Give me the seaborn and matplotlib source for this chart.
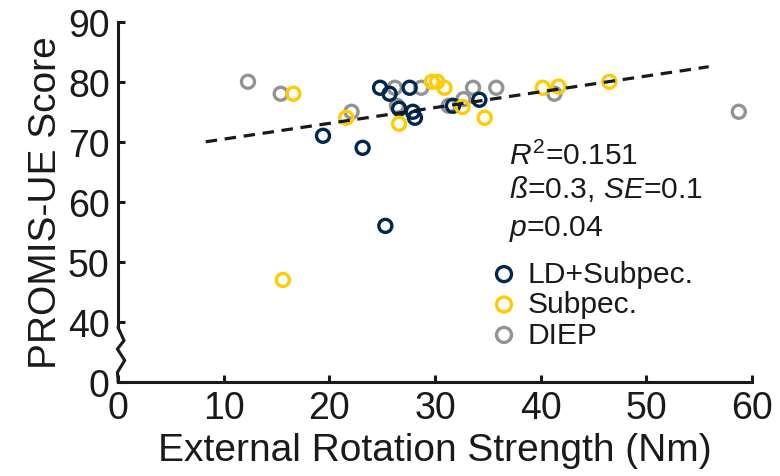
import numpy as np
import pandas as pd
import matplotlib
matplotlib.use("Agg")
import matplotlib.pyplot as plt
import matplotlib.transforms as mtransforms
import seaborn as sns

# ---------------- data ----------------
groups = ["LD+Subpec.", "Subpec.", "DIEP"]

ld_x = [19.4, 23.15, 24.8, 25.7, 27.6, 26.6, 27.9, 28.1, 31.7, 34.2, 25.3]
ld_y = [71.0, 69.0, 79.0, 78.0, 79.0, 75.5, 75.0, 74.0, 76.0, 77.0, 56.0]

sub_x = [16.6, 21.6, 29.7, 30.2, 30.9, 26.6, 32.6, 34.7, 40.2, 41.7, 46.5, 15.6]
sub_y = [78.0, 74.0, 80.0, 80.0, 79.0, 73.0, 75.8, 74.0, 79.0, 79.2, 80.0, 47.0]

diep_x = [12.3, 15.4, 22.1, 26.2, 28.7, 26.4, 31.3, 32.7, 33.6, 35.8, 41.3, 58.75]
diep_y = [80.0, 78.0, 75.0, 79.0, 79.0, 76.0, 76.0, 77.1, 79.0, 79.0, 78.0, 75.0]

fit_x = [8.3, 55.9]
fit_y = [70.0, 82.5]

xticks = [0, 10, 20, 30, 40, 50, 60]
yticks = [30, 40, 50, 60, 70, 80, 90]
ytick_labels = ["0", "40", "50", "60", "70", "80", "90"]

stat_lines = [r"$R^2$=0.151", r"$\mathit{ß}$=0.3, $\mathit{SE}$=0.1", r"$p$=0.04"]

# ---------------- style ----------------
sns.set_theme(style="ticks")
plt.rcParams['font.family'] = ['Liberation Sans', 'DejaVu Sans']
plt.rcParams['mathtext.fontset'] = 'custom'
plt.rcParams['mathtext.rm'] = 'Liberation Sans'
plt.rcParams['mathtext.it'] = 'Liberation Sans:italic'
plt.rcParams['mathtext.bf'] = 'Liberation Sans:bold'

ink = '#1a1a1a'
colors = {"LD+Subpec.": '#00274C', "Subpec.": '#FFCB05', "DIEP": '#939393'}

df = pd.DataFrame({
    "x": ld_x + sub_x + diep_x,
    "y": ld_y + sub_y + diep_y,
    "group": [groups[0]] * len(ld_x) + [groups[1]] * len(sub_x) + [groups[2]] * len(diep_x),
})

W, H = 780, 477
fig = plt.figure(figsize=(W / 100, H / 100), dpi=100)
L, R, B, T = 118 / W, 752 / W, 1 - 383 / H, 1 - 22.7 / H
ax = fig.add_axes([L, B, R - L, T - B])

for g in ["DIEP", "LD+Subpec.", "Subpec."]:
    sub = df[df.group == g]
    sns.scatterplot(data=sub, x="x", y="y", ax=ax, marker="o", s=88,
                    facecolor="none", edgecolor=colors[g], linewidth=2.4,
                    label=g, zorder=3)

sns.lineplot(x=fit_x, y=fit_y, ax=ax, color=ink, linewidth=2.3,
             linestyle=(0, (3.6, 2.4)), zorder=4)

ax.set_xlim(0, 60)
ax.set_ylim(30, 90)
ax.set_xticks(xticks)
ax.set_yticks(yticks)
ax.set_yticklabels(ytick_labels)

for s in ["top", "right"]:
    ax.spines[s].set_visible(False)
for s in ["left", "bottom"]:
    ax.spines[s].set_linewidth(2.2)
    ax.spines[s].set_color(ink)
ax.spines["left"].set_bounds(39.1, 90)

# axis break zigzag on the y axis
axw = (752 - 118)
zz_dx = [0, 6, -0.6, 6.7, -0.6, 0, 0]
zz_y = [39.1, 36.9, 35.5, 33.6, 31.6, 30.5, 30.0]
trans = mtransforms.blended_transform_factory(ax.transAxes, ax.transData)
ax.plot([d / axw for d in zz_dx], zz_y, color=ink, lw=2.2, transform=trans,
        clip_on=False, solid_joinstyle='miter', zorder=5)

ax.tick_params(direction="in", length=5, width=2.2, colors=ink,
               labelsize=27, pad=6)
ax.set_xlabel("External Rotation Strength (Nm)", fontsize=28, color=ink, labelpad=4)
ax.set_ylabel("PROMIS-UE Score", fontsize=28, color=ink, labelpad=3)

# statistics
for txt, by in zip(stat_lines, [165, 198.5, 236]):
    fig.text(509 / W, 1 - by / H, txt, fontsize=21.6, color=ink, va="baseline", ha="left")

handles, labels = ax.get_legend_handles_labels()
order = [labels.index(g) for g in groups]
leg = ax.legend([handles[i] for i in order], [labels[i] for i in order],
                loc="upper left", bbox_to_anchor=(492 / W, 1 - 261 / H),
                bbox_transform=fig.transFigure, frameon=False, fontsize=21.6,
                handlelength=0.8, handletextpad=0.37, labelspacing=0.08,
                borderpad=0, borderaxespad=0, markerscale=1.15)
for t in leg.get_texts():
    t.set_color(ink)

fig.savefig("out.png", dpi=100)
